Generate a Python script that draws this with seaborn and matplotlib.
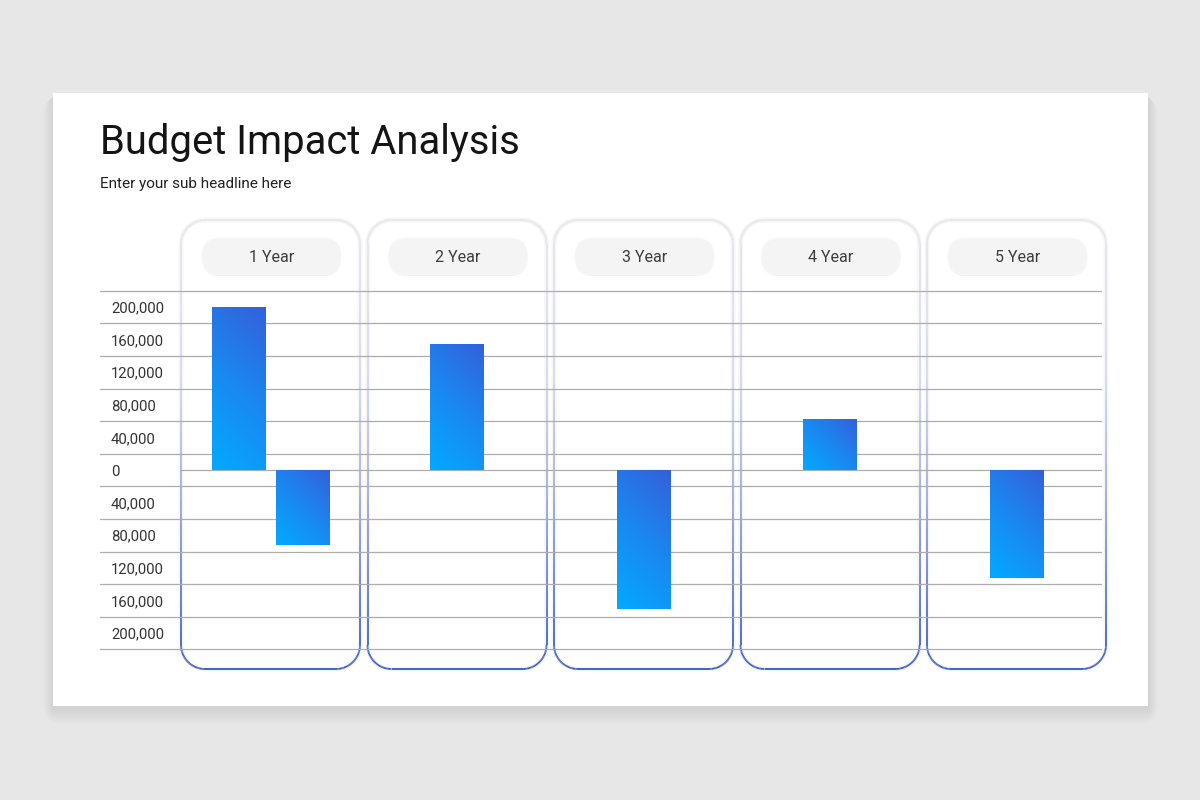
import matplotlib
matplotlib.use("Agg")
import matplotlib.pyplot as plt
import matplotlib.patches as mpatches
from matplotlib.collections import LineCollection
from matplotlib.colors import LinearSegmentedColormap
import numpy as np
import pandas as pd
import seaborn as sns

sns.set_theme(style="white")
plt.rcParams['font.family'] = ['Roboto', 'DejaVu Sans']

# ------------------------------------------------------------------ #
#  DATA
# ------------------------------------------------------------------ #
title = "Budget Impact Analysis"
subtitle = "Enter your sub headline here"

years = ["1 Year", "2 Year", "3 Year", "4 Year", "5 Year"]

# one row per bar (year 1 has two bars)
bar_year = ["1 Year", "1 Year", "2 Year", "3 Year", "4 Year", "5 Year"]
bar_value = [200000, -92000, 155000, -170000, 63000, -132000]

tick_values = [200000, 160000, 120000, 80000, 40000, 0,
               -40000, -80000, -120000, -160000, -200000]
grid_values = [220000, 180000, 140000, 100000, 60000, 20000,
               -20000, -60000, -100000, -140000, -180000, -220000]

# ------------------------------------------------------------------ #
#  LAYOUT (pixels on a 1200x800 canvas)
# ------------------------------------------------------------------ #
W, H = 1200, 800
card_c0 = 270.5       # centre of the first card
card_step = 186.5     # distance between card centres
card_w = 179
card_top, card_bot = 220, 669
card_r = 24
pill_w, pill_h, pill_y = 139, 37, 256.5

zero_px = 470
px_per_unit = 163 / 200000
ylim = (-225000, 225000)
ax_left, ax_right = 100, 1102
ax_top = zero_px - ylim[1] * px_per_unit
ax_bot = zero_px - ylim[0] * px_per_unit

bar_w = 54 / card_step
bar_gap = 64 / card_step

bar_cmap = LinearSegmentedColormap.from_list("bar", ["#02aaff", "#1a88f0", "#3460da"])
edge_cmap = LinearSegmentedColormap.from_list(
    "edge", [(0, "#e8e8ec"), (0.35, "#d6d9ee"), (0.6, "#a3aee0"), (1, "#3557bd")])

# ------------------------------------------------------------------ #
#  FIGURE + BACKGROUND
# ------------------------------------------------------------------ #
fig = plt.figure(figsize=(12, 8), dpi=100)
fig.patch.set_facecolor("#e8e7e8")

bg = fig.add_axes([0, 0, 1, 1])
bg.set_xlim(0, W)
bg.set_ylim(H, 0)
bg.axis("off")

# slide shadow (soft, mostly below) + slide
for k in range(1, 21):
    bg.add_patch(mpatches.FancyBboxPatch((53 - k * 0.5, 93 + 3), 1095 + k * 1.0, 613 + k * 0.8,
                                         boxstyle=f"round,pad=0,rounding_size={k}",
                                         facecolor="black", alpha=0.0035, lw=0, zorder=1))
bg.add_patch(mpatches.Rectangle((53, 93), 1095, 613, facecolor="white", lw=0, zorder=2))

bg.text(100, 154, title, fontsize=28.8, color="#141414", va="baseline", ha="left", zorder=8)
bg.text(100, 188, subtitle, fontsize=11, color="#202020", va="baseline", ha="left", zorder=8)


def rounded_rect(x0, y0, x1, y1, r, n=400):
    pts = []
    def arc(cx, cy, a0, a1):
        a = np.radians(np.linspace(a0, a1, 30))
        return list(zip(cx + r * np.cos(a), cy + r * np.sin(a)))
    def line(p, q):
        t = np.linspace(0, 1, n)
        return list(zip(p[0] + (q[0] - p[0]) * t, p[1] + (q[1] - p[1]) * t))
    pts += line((x0 + r, y0), (x1 - r, y0))
    pts += arc(x1 - r, y0 + r, -90, 0)
    pts += line((x1, y0 + r), (x1, y1 - r))
    pts += arc(x1 - r, y1 - r, 0, 90)
    pts += line((x1 - r, y1), (x0 + r, y1))
    pts += arc(x0 + r, y1 - r, 90, 180)
    pts += line((x0, y1 - r), (x0, y0 + r))
    pts += arc(x0 + r, y0 + r, 180, 270)
    return np.array(pts)


for i, yr in enumerate(years):
    cx = card_c0 + card_step * i
    x0, x1 = cx - card_w / 2, cx + card_w / 2
    bg.add_patch(mpatches.FancyBboxPatch((x0, card_top), card_w, card_bot - card_top,
                                         boxstyle=f"round,pad=0,rounding_size={card_r}",
                                         facecolor="white", edgecolor="none", zorder=3))
    pts = rounded_rect(x0, card_top, x1, card_bot, card_r)
    bg.plot(pts[:, 0], pts[:, 1], color="#f1f1f3", lw=3.5, alpha=0.6, zorder=4,
            solid_capstyle="round")
    segs = np.stack([pts[:-1], pts[1:]], axis=1)
    ymid = segs[:, :, 1].mean(axis=1)
    lc = LineCollection(segs, colors=edge_cmap((ymid - card_top) / (card_bot - card_top)),
                        linewidths=1.3, zorder=5)
    bg.add_collection(lc)

    # header pill
    bg.add_patch(mpatches.FancyBboxPatch((cx + 1 - pill_w / 2, pill_y - pill_h / 2 + 1),
                                         pill_w, pill_h,
                                         boxstyle=f"round,pad=0,rounding_size={pill_h / 2}",
                                         facecolor="#ebebeb", edgecolor="none", zorder=6))
    bg.add_patch(mpatches.FancyBboxPatch((cx + 1 - pill_w / 2, pill_y - pill_h / 2),
                                         pill_w, pill_h,
                                         boxstyle=f"round,pad=0,rounding_size={pill_h / 2}",
                                         facecolor="#f4f4f4", edgecolor="#f8f8f8", lw=0.8,
                                         zorder=6))
    bg.text(cx + 1, pill_y + 1.5, yr, fontsize=11.5, color="#3c3c3c", ha="center", va="center",
            zorder=7)

# ------------------------------------------------------------------ #
#  DATA AXES
# ------------------------------------------------------------------ #
ax = fig.add_axes([ax_left / W, 1 - ax_bot / H, (ax_right - ax_left) / W, (ax_bot - ax_top) / H])
ax.set_facecolor("none")

df = pd.DataFrame({"year": bar_year, "value": bar_value})
df["slot"] = df.groupby("year").cumcount()
df["n"] = df.groupby("year")["year"].transform("size")
df["pos"] = df["year"].map(years.index) + (df["slot"] - (df["n"] - 1) / 2) * bar_gap

native_w = np.min(np.diff(np.unique(df["pos"])))
sns.barplot(data=df, x="pos", y="value", native_scale=True, width=bar_w / native_w,
            errorbar=None, color="#1a86f0", linewidth=0, ax=ax, zorder=3)

xlim = ((ax_left - card_c0) / card_step, (ax_right - card_c0) / card_step)

# 45 degree gradient (in pixel space) inside every bar
uu, vv = np.meshgrid(np.linspace(0, 1, 100), np.linspace(0, 1, 100))
for p in list(ax.patches):
    bx0, by0, bx1, by1 = p.get_bbox().extents
    wpx = 54
    hpx = abs(by1 - by0) * px_per_unit
    grad = (uu * wpx + vv * hpx) / (wpx + hpx)
    im = ax.imshow(grad, extent=[bx0, bx1, min(by0, by1), max(by0, by1)], origin="lower",
                   cmap=bar_cmap, aspect="auto", zorder=4, interpolation="bilinear")
    im.set_clip_path(p)

ax.set_xlim(*xlim)
ax.set_ylim(*ylim)
ax.set_xticks([])
ax.set_xlabel("")
ax.set_ylabel("")

ax.set_yticks(tick_values)
ax.set_yticklabels([f"{abs(v):,}" for v in tick_values])
ax.set_yticks(grid_values, minor=True)
ax.tick_params(axis="y", which="both", length=0, pad=-11 * 0.72, labelsize=10.7,
               labelcolor="#333333")
for lbl in ax.get_yticklabels():
    lbl.set_horizontalalignment("left")

ax.grid(False)
ax.grid(which="minor", axis="y", color="#adadad", lw=0.9, zorder=1)
ax.axhline(0, xmin=(180 - ax_left) / (ax_right - ax_left), xmax=1, color="#adadad",
           lw=0.9, zorder=1)
for s in ax.spines.values():
    s.set_visible(False)

fig.savefig("out.png", dpi=100, facecolor=fig.get_facecolor())
